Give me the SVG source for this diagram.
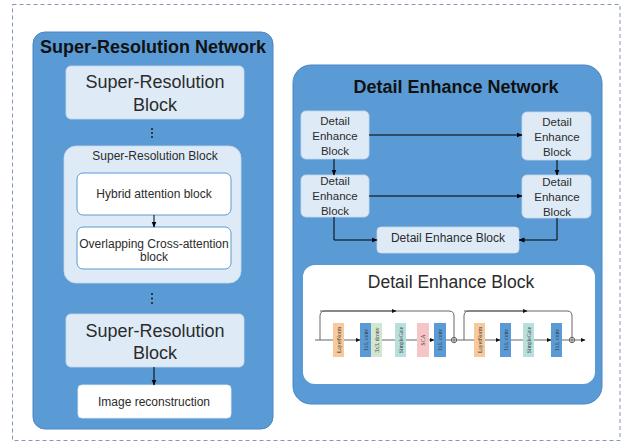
<svg xmlns="http://www.w3.org/2000/svg" width="623" height="442" viewBox="0 0 623 442">
<defs>
<style>
.frame{fill:none;stroke:#8497B8;stroke-width:1;stroke-dasharray:4 3}
.panel{fill:#5B9BD5;stroke:#4A86C4;stroke-width:1}
.lb{fill:#DEEBF7;stroke:#C5D8EE;stroke-width:0.8}
.wb{fill:#FFFFFF;stroke:#5B9BD5;stroke-width:1}
.wn{fill:#FFFFFF;stroke:#E6EEF8;stroke-width:0.8}
.t{font-family:"Liberation Sans","DejaVu Sans",sans-serif;fill:#2B2B2B;text-anchor:middle}
.h{font-family:"Liberation Sans","DejaVu Sans",sans-serif;font-weight:bold;fill:#111;text-anchor:middle;font-size:18px}
.s{font-family:"Liberation Serif","DejaVu Serif",serif;font-size:5.6px;fill:#333;text-anchor:middle;dominant-baseline:central}
.c{fill:none;stroke:#000;stroke-width:1}
.g{fill:none;stroke:#555;stroke-width:0.9}
.ln{fill:#F8C99C}.cv{fill:#5B9BD5}.dc{fill:#D3E6CF}.sg{fill:#B6DFDD}.sca{fill:#F6C6C6}
</style>
<marker id="ah" markerWidth="6" markerHeight="6" refX="5.5" refY="3" orient="auto" markerUnits="userSpaceOnUse"><path d="M0,0.5 L6,3 L0,5.5 z" fill="#000"/></marker>
<marker id="as" markerWidth="5" markerHeight="5" refX="4.5" refY="2.5" orient="auto" markerUnits="userSpaceOnUse"><path d="M0,0.3 L5,2.5 L0,4.7 z" fill="#111"/></marker>
</defs>
<rect class="frame" x="12.5" y="4.5" width="607.5" height="436"/>

<g id="sr-network">
<rect class="panel" x="33" y="32" width="240" height="397" rx="12"/>
<text class="h" x="153" y="53">Super-Resolution Network</text>
</g>
<g id="sr-block-1">
<rect class="lb" x="66" y="66" width="178" height="53" rx="5"/>
<text class="t" x="155" y="88" font-size="18">Super-Resolution</text>
<text class="t" x="155" y="111" font-size="18">Block</text>
</g>
<g id="dots-1" fill="#1a1a1a">
<circle cx="152" cy="129" r="1"/><circle cx="152" cy="133" r="1"/><circle cx="152" cy="137" r="1"/>
</g>
<g id="sr-block-detail">
<rect class="lb" x="64" y="146" width="177" height="137" rx="12"/>
<text class="t" x="155" y="160" font-size="12">Super-Resolution Block</text>
</g>
<g id="hybrid-attention">
<rect class="wb" x="77" y="173" width="154" height="42" rx="6"/>
<text class="t" x="154" y="198" font-size="12">Hybrid attention block</text>
</g>
<g id="overlapping-cross-attention">
<rect class="wb" x="77" y="227" width="154" height="42" rx="6"/>
<text class="t" x="154" y="248" font-size="12">Overlapping Cross-attention</text>
<text class="t" x="154" y="261" font-size="12">block</text>
</g>
<g id="dots-2" fill="#1a1a1a">
<circle cx="152" cy="294" r="1"/><circle cx="152" cy="298.5" r="1"/><circle cx="152" cy="303" r="1"/>
</g>
<g id="sr-block-2">
<rect class="lb" x="66" y="314" width="178" height="53" rx="5"/>
<text class="t" x="155" y="337" font-size="18">Super-Resolution</text>
<text class="t" x="155" y="359" font-size="18">Block</text>
</g>
<g id="image-reconstruction">
<rect class="wn" x="78" y="385" width="153" height="33" rx="4"/>
<text class="t" x="154" y="406" font-size="12">Image reconstruction</text>
</g>

<g id="de-network">
<rect class="panel" x="293" y="65" width="309" height="339" rx="18"/>
<text class="h" x="456" y="93">Detail Enhance Network</text>
</g>
<g id="deb-tl">
<rect class="lb" x="301" y="111" width="68" height="48" rx="5"/>
<text class="t" x="335" y="125" font-size="11.5">Detail</text>
<text class="t" x="335" y="140" font-size="11.5">Enhance</text>
<text class="t" x="335" y="155" font-size="11.5">Block</text>
</g>
<g id="deb-tr">
<rect class="lb" x="522" y="112" width="69" height="48" rx="5"/>
<text class="t" x="557" y="126" font-size="11.5">Detail</text>
<text class="t" x="557" y="141" font-size="11.5">Enhance</text>
<text class="t" x="557" y="156" font-size="11.5">Block</text>
</g>
<g id="deb-ml">
<rect class="lb" x="301" y="175" width="68" height="42" rx="5"/>
<text class="t" x="335" y="185" font-size="11.5">Detail</text>
<text class="t" x="335" y="200" font-size="11.5">Enhance</text>
<text class="t" x="335" y="215" font-size="11.5">Block</text>
</g>
<g id="deb-mr">
<rect class="lb" x="522" y="175" width="69" height="43" rx="5"/>
<text class="t" x="557" y="186" font-size="11.5">Detail</text>
<text class="t" x="557" y="201" font-size="11.5">Enhance</text>
<text class="t" x="557" y="216" font-size="11.5">Block</text>
</g>
<g id="deb-bottom">
<rect class="lb" x="377" y="227" width="142" height="26" rx="4"/>
<text class="t" x="448" y="242" font-size="12">Detail Enhance Block</text>
</g>

<g id="deb-detail">
<rect fill="#FFFFFF" x="303" y="265" width="292" height="119" rx="12"/>
<text class="t" x="451" y="288" font-size="17.5">Detail Enhance Block</text>
<rect class="ln" x="333" y="323" width="11" height="34"/>
<text class="s" transform="translate(338.5,340) rotate(-90)">LayerNorm</text>
<rect class="cv" x="360" y="323" width="11" height="34"/>
<text class="s" transform="translate(365.5,340) rotate(-90)">1x1, conv</text>
<rect class="dc" x="371" y="323" width="11" height="34"/>
<text class="s" transform="translate(376.5,340) rotate(-90)">3x3, dconv</text>
<rect class="sg" x="395" y="323" width="11" height="34"/>
<text class="s" transform="translate(400.5,340) rotate(-90)">SimpleGate</text>
<rect class="sca" x="417" y="323" width="12" height="34"/>
<text class="s" transform="translate(423,340) rotate(-90)">SCA</text>
<rect class="cv" x="434" y="323" width="12" height="34"/>
<text class="s" transform="translate(440,340) rotate(-90)">1x1, conv</text>
<rect class="ln" x="474" y="323" width="11" height="34"/>
<text class="s" transform="translate(479.5,340) rotate(-90)">LayerNorm</text>
<rect class="cv" x="500" y="323" width="11" height="34"/>
<text class="s" transform="translate(505.5,340) rotate(-90)">1x1, conv</text>
<rect class="sg" x="523" y="323" width="11" height="34"/>
<text class="s" transform="translate(528.5,340) rotate(-90)">SimpleGate</text>
<rect class="cv" x="551" y="323" width="11" height="34"/>
<text class="s" transform="translate(556.5,340) rotate(-90)">1x1, conv</text>
</g>

<g id="connectors">
<path class="c" d="M154,215 V227" marker-end="url(#ah)"/>
<path class="c" d="M154,367 V385" marker-end="url(#ah)"/>
<path class="c" d="M369,135 H522" marker-end="url(#ah)"/>
<path class="c" d="M369,196 H522" marker-end="url(#ah)"/>
<path class="c" d="M334,159 V175" marker-end="url(#ah)"/>
<path class="c" d="M557,160 V175" marker-end="url(#ah)"/>
<path class="c" d="M334,217 V240 H377" marker-end="url(#ah)"/>
<path class="c" d="M557,218 V240 H519" marker-end="url(#ah)"/>
<!-- schematic -->
<path class="g" d="M315,340 H333"/>
<path class="g" d="M344,340 H360" marker-end="url(#as)"/>
<path class="g" d="M382,340 H395"/>
<path class="g" d="M406,340 H417"/>
<path class="g" d="M429,340 H434" marker-end="url(#as)"/>
<path class="g" d="M446,340 H451.3"/>
<path class="g" d="M320,340 V316 Q320,311 325,311 H449 Q454,311 454,316 V337.3"/>
<path class="g" d="M320,311 H396" marker-end="url(#as)"/>
<circle class="g" cx="454" cy="340" r="2.7" fill="#fff"/>
<path class="g" d="M454,337.3 V342.7 M451.3,340 H456.7"/>
<path class="g" d="M456.7,340 H474"/>
<path class="g" d="M485,340 H500" marker-end="url(#as)"/>
<path class="g" d="M511,340 H523"/>
<path class="g" d="M534,340 H551" marker-end="url(#as)"/>
<path class="g" d="M562,340 H569.3"/>
<path class="g" d="M464,340 V316 Q464,311 469,311 H567 Q572,311 572,316 V337.3"/>
<path class="g" d="M464,311 H527" marker-end="url(#as)"/>
<circle class="g" cx="572" cy="340" r="2.7" fill="#fff"/>
<path class="g" d="M572,337.3 V342.7 M569.3,340 H574.7"/>
<path class="g" d="M574.7,340 H585" marker-end="url(#as)"/>
</g>
</svg>
